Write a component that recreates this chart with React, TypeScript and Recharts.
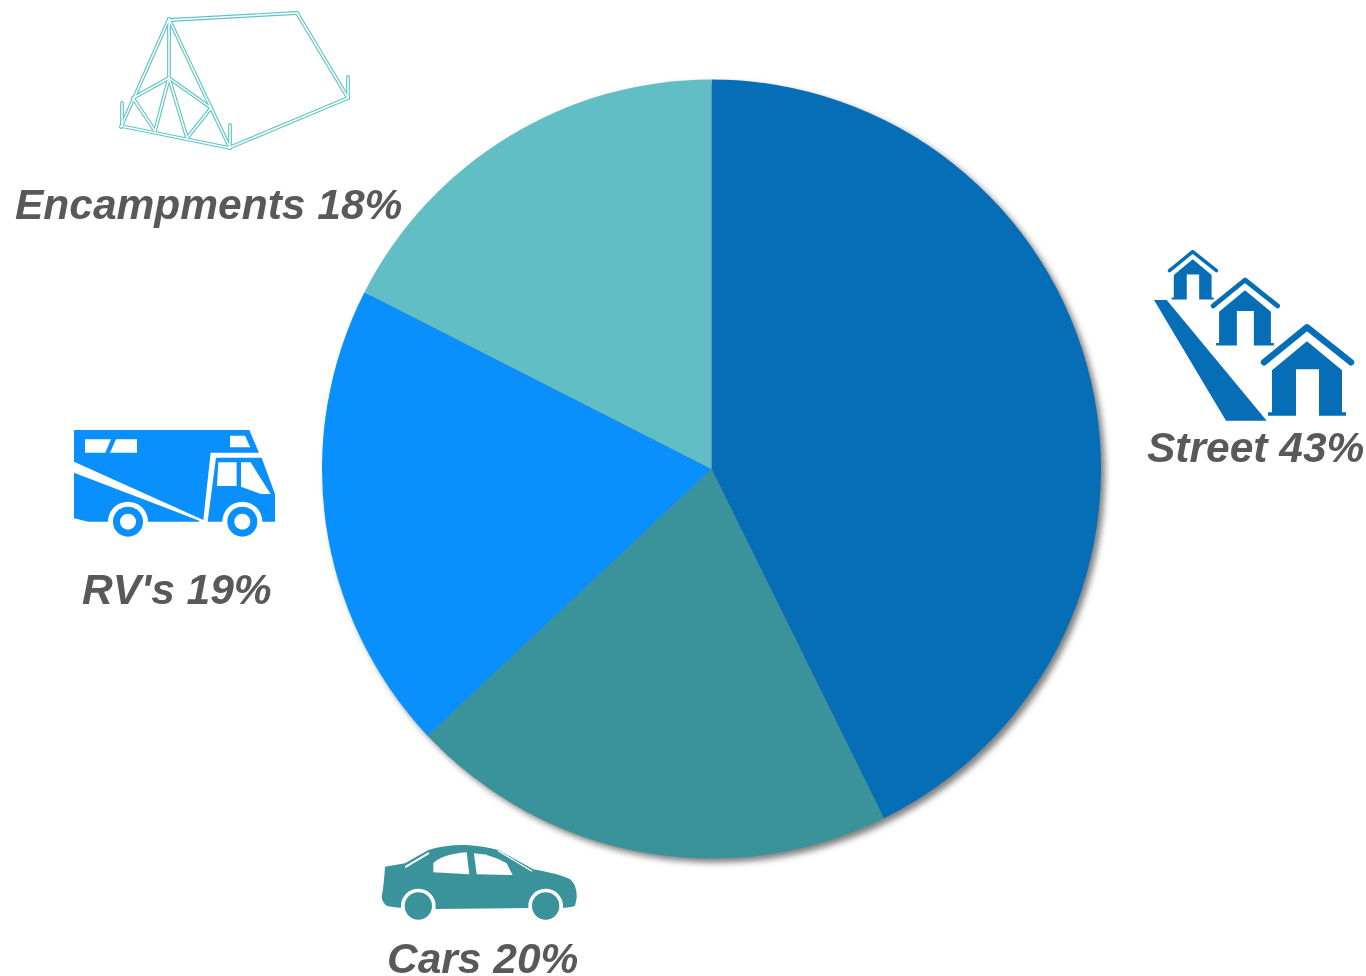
import React from 'react';
import { PieChart, Pie, Cell } from 'recharts';

const CATEGORIES = ['Street', 'Cars', "RV's", 'Encampments'];
const VALUES = [42.7, 20.3, 19.5, 17.5];
const PERCENT_LABELS = ['43%', '20%', '19%', '18%'];
const COLORS = ['#066DB7', '#3A939B', '#0A90FC', '#62BEC5'];

const pieData = CATEGORIES.map((name, i) => ({ name, value: VALUES[i] }));

const TENT_LINES = [
  [169, 19, 121, 127], [169, 19, 230, 148], [169, 19, 169, 78], [169, 78, 133, 98], [169, 78, 211, 108],
  [133, 98, 155, 131], [169, 78, 155, 131], [169, 78, 187, 138], [211, 108, 187, 138],
  [121, 126, 230, 148], [170, 20, 297, 13], [297, 13, 348, 98], [348, 98, 231, 147],
  [122, 103, 122, 126], [230, 125, 230, 148], [348, 77, 348, 98],
];

const Tent = () => (
  <g strokeLinecap="round">
    {TENT_LINES.map((l, i) => (
      <line key={i} x1={l[0]} y1={l[1]} x2={l[2]} y2={l[3]} stroke="#5FC4C8" strokeWidth={3.8} />
    ))}
    {TENT_LINES.map((l, i) => (
      <line key={i} x1={l[0]} y1={l[1]} x2={l[2]} y2={l[3]} stroke="#fff" strokeWidth={1.5} />
    ))}
  </g>
);

const House = ({ x, y, s }: { x: number; y: number; s: number }) => (
  <g transform={`translate(${x} ${y}) scale(${s})`} fill="#066DB7">
    <polyline points="-43,35 0,0 44,35" fill="none" stroke="#066DB7" strokeWidth={6.5} strokeLinecap="round" strokeLinejoin="round" />
    <polygon points="-35,43 0,14 35,43 35,85 39,85 39,88.5 12,88.5 12,42 -11,42 -11,88.5 -39,88.5 -39,85 -35,85" />
  </g>
);

const Street = () => (
  <g>
    <polygon points="1154,300 1166.7,300 1266.7,420.7 1226,420.7" fill="#066DB7" />
    <House x={1192.7} y={251.7} s={0.54} />
    <House x={1245} y={280} s={0.74} />
    <House x={1307} y={327.3} s={1} />
  </g>
);

const Wheel = ({ cx, cy, color, arch, outer, inner }: any) => (
  <g>
    <circle cx={cx} cy={cy} r={arch} fill="#fff" />
    <circle cx={cx} cy={cy} r={outer} fill={color} />
    {inner > 0 && <circle cx={cx} cy={cy} r={inner} fill="#fff" />}
  </g>
);

const Rv = () => (
  <g transform="translate(60 420) scale(0.3333)" fill="#0A90FC">
    <polygon points="42,30 568,30 597,98 452,98 430,300 42,125" />
    <polygon points="42,158 418,302 418,305 85,305 42,295" />
    <polygon points="468,113 605,113 645,222 645,305 443,305" />
    <g fill="#fff">
      <polygon points="475,127 530,127 530,198 471,198" />
      <polygon points="543,127 572,127 632,222 603,222 543,200" />
      <polygon points="75,58 153,58 136,98 75,98" />
      <polygon points="168,58 231,58 231,98 150,98" />
      <polygon points="510,47 555,47 571,82 510,82" />
    </g>
    <Wheel cx={204} cy={305} color="#0A90FC" arch={60} outer={45} inner={24} />
    <Wheel cx={547} cy={305} color="#0A90FC" arch={60} outer={45} inner={24} />
  </g>
);

const Car = () => (
  <g transform="translate(370 835) scale(0.3333)" fill="#3A939B">
    <path d="M45,95 L105,85 L175,45 Q230,28 290,30 Q340,33 385,45 L490,103 Q560,115 600,132 Q622,150 620,190 L615,212 Q600,218 570,218 L200,222 L95,218 Q65,216 50,212 Q35,200 35,185 Q42,150 45,95 Z" />
    <Wheel cx={145} cy={213} color="#3A939B" arch={52} outer={41} inner={0} />
    <Wheel cx={527} cy={213} color="#3A939B" arch={52} outer={41} inner={0} />
    <g fill="#fff">
      <path d="M190,112 L190,85 Q215,58 290,52 L298,118 Z" />
      <path d="M312,55 Q365,58 410,85 L428,120 L320,118 Z" />
    </g>
    <line x1={108} y1={95} x2={175} y2={55} stroke="#fff" strokeWidth={6} strokeLinecap="round" />
    <line x1={385} y1={48} x2={485} y2={108} stroke="#fff" strokeWidth={4} strokeLinecap="round" />
  </g>
);

const labelStyle: React.CSSProperties = {
  fontFamily: '"Liberation Sans", Arial, sans-serif',
  fontWeight: 700,
  fontStyle: 'italic',
  fontSize: 42.5,
  fill: '#595959',
};

const App = () => (
  <div style={{ position: 'absolute', left: 0, top: 0, width: 1366, height: 976, background: '#fff', overflow: 'hidden' }}>
    <PieChart
      width={1366}
      height={976}
      margin={{ top: 0, right: 0, bottom: 0, left: 0 }}
      style={{ filter: 'drop-shadow(4px 4px 3px rgba(0,0,0,0.5))' }}
    >
      <Pie
        data={pieData}
        dataKey="value"
        nameKey="name"
        cx={711.5}
        cy={469}
        innerRadius={0}
        outerRadius={389.5}
        startAngle={90}
        endAngle={-270}
        stroke="none"
        isAnimationActive={false}
        label={false}
        labelLine={false}
      >
        {pieData.map((entry, index) => (
          <Cell key={`cell-${index}`} fill={COLORS[index]} />
        ))}
      </Pie>
    </PieChart>
    <svg width={1366} height={976} style={{ position: 'absolute', left: 0, top: 0, opacity: 0.999 }}>
      <Tent />
      <Street />
      <Rv />
      <Car />
      <text x={1147} y={462} style={labelStyle}>{`${CATEGORIES[0]} ${PERCENT_LABELS[0]}`}</text>
      <text x={387} y={973} style={labelStyle}>{`${CATEGORIES[1]} ${PERCENT_LABELS[1]}`}</text>
      <text x={82} y={604} style={labelStyle}>{`${CATEGORIES[2]} ${PERCENT_LABELS[2]}`}</text>
      <text x={15} y={219} style={labelStyle}>{`${CATEGORIES[3]} ${PERCENT_LABELS[3]}`}</text>
    </svg>
  </div>
);

export default App;
